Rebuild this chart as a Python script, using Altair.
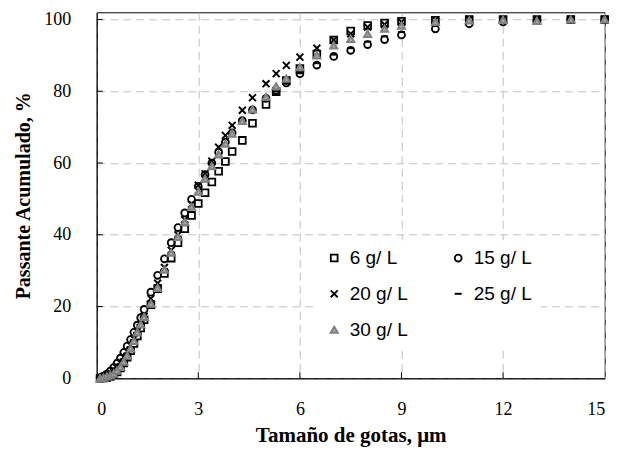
import altair as alt
import pandas as pd

sizes = [0.1, 0.2, 0.3, 0.4, 0.5, 0.6, 0.7, 0.8, 0.9, 1.0, 1.1, 1.2, 1.3, 1.4, 1.6, 1.8,
         2.0, 2.2, 2.4, 2.6, 2.8, 3.0, 3.2, 3.4, 3.6, 3.8, 4.0, 4.3, 4.6, 5.0, 5.3, 5.6,
         6.0, 6.5, 7.0, 7.5, 8.0, 8.5, 9.0, 10, 11, 12, 13, 14, 15]

s6 = [0.0, 0.1, 0.2, 0.5, 1.0, 1.8, 2.9, 4.3, 5.9, 7.7, 9.7, 11.8, 14.0, 16.3, 20.5, 25.0,
      29.2, 33.5, 37.8, 41.7, 45.4, 48.7, 51.7, 54.7, 57.7, 60.4, 63.2, 66.3, 71.1, 76.3, 79.9, 83.0,
      86.3, 90.4, 94.3, 96.8, 98.3, 99.0, 99.5, 99.8, 100, 100, 100, 100, 100]
s15 = [0.2, 0.6, 1.2, 2.0, 3.0, 4.2, 5.6, 7.2, 9.0, 10.8, 12.8, 14.8, 16.9, 19.2, 24.0, 28.7,
       33.3, 37.8, 42.0, 46.1, 49.9, 53.5, 56.8, 60.0, 63.0, 65.8, 68.4, 71.8, 74.8, 78.0, 80.3, 82.3,
       84.9, 87.3, 89.7, 91.4, 93.0, 94.4, 95.7, 97.4, 98.8, 99.3, 99.7, 100, 100]
s20 = [0.1, 0.4, 0.9, 1.5, 2.3, 3.3, 4.5, 5.9, 7.5, 9.2, 11.0, 13.0, 15.0, 17.3, 22.2, 26.5,
       30.9, 35.7, 40.0, 44.2, 48.5, 53.8, 57.0, 60.5, 64.4, 67.7, 70.5, 74.7, 78.2, 82.1, 84.9, 87.2,
       89.5, 92.0, 94.3, 96.0, 97.9, 98.6, 99.3, 99.9, 100, 100, 100, 100, 100]
s25 = [0.1, 0.3, 0.7, 1.2, 1.9, 2.8, 3.9, 5.3, 6.9, 8.7, 10.6, 12.7, 14.8, 17.0, 21.5, 26.0,
       30.5, 35.0, 39.5, 43.5, 47.5, 51.5, 55.0, 58.5, 61.8, 64.8, 67.5, 71.0, 74.3, 77.8, 80.0, 82.3,
       85.0, 87.8, 90.2, 92.0, 93.8, 95.3, 96.5, 98.2, 99.3, 99.7, 100, 100, 100]
s30 = [0.0, 0.2, 0.5, 0.8, 1.3, 2.1, 3.2, 4.6, 6.3, 8.3, 10.4, 12.8, 15.0, 17.1, 20.8, 25.2,
       30.3, 35.0, 39.4, 43.6, 47.8, 52.0, 55.6, 59.1, 62.4, 65.4, 68.2, 71.7, 74.9, 78.4, 81.4, 83.5,
       86.7, 90.0, 92.8, 94.6, 96.0, 97.4, 98.3, 99.3, 99.7, 99.9, 99.6, 100, 100]

series_names = ["6 g/ L", "15 g/ L", "20 g/ L", "25 g/ L", "30 g/ L"]
x_ticks = [0, 3, 6, 9, 12, 15]
y_ticks = [0, 20, 40, 60, 80, 100]

rows = []
for name, vals in zip(series_names, [s6, s15, s20, s25, s30]):
    for x, v in zip(sizes, vals):
        rows.append({"size": x, "pct": v, "series": name})
df = pd.DataFrame(rows)

W, H = 508, 366

xscale = alt.Scale(domain=[0, 15], nice=False, zero=False)
yscale = alt.Scale(domain=[0, 102], nice=False)

leg = alt.Legend(title=None, orient="none", legendX=220, legendY=228, columns=2,
                 direction="horizontal",
                 labelFont="Liberation Sans", labelFontSize=19, labelColor="black",
                 fillColor="white", padding=8, rowPadding=16, columnPadding=40,
                 labelOffset=6)

points = alt.Chart(df).mark_point(opacity=1).encode(
    x=alt.X("size:Q", scale=xscale,
            axis=alt.Axis(values=x_ticks, title="Tamaño de gotas, μm", labelPadding=22,
                          titlePadding=6, titleFontSize=21)),
    y=alt.Y("pct:Q", scale=yscale,
            axis=alt.Axis(values=y_ticks, title="Passante Acumulado, %", labelPadding=26,
                          titlePadding=10, titleFontSize=20)),
    shape=alt.Shape("series:N", scale=alt.Scale(domain=series_names,
                    range=["square", "circle", "M-1,-1L1,1M-1,1L1,-1", "M-1,0L1,0", "triangle-up"]),
                    legend=leg),
    stroke=alt.Stroke("series:N", scale=alt.Scale(domain=series_names,
                      range=["black", "black", "black", "black", "#808080"]), legend=leg),
    fill=alt.Fill("series:N", scale=alt.Scale(domain=series_names,
                  range=["transparent", "transparent", "transparent", "transparent", "#a6a6a6"]),
                  legend=leg),
    size=alt.Size("series:N", scale=alt.Scale(domain=series_names, range=[46, 50, 100, 49, 64]),
                  legend=leg),
    strokeWidth=alt.StrokeWidth("series:N", scale=alt.Scale(domain=series_names,
                                range=[1.8, 2.0, 2.2, 2.8, 1.3]), legend=leg),
)

xt = pd.DataFrame({"v": x_ticks[1:-1]})
yt = pd.DataFrame({"v": y_ticks[1:]})

xtick_rules = alt.Chart(xt).mark_rule(color="black", strokeWidth=1).encode(
    x=alt.X("v:Q", scale=xscale), y=alt.value(H), y2=alt.value(H - 6))
ytick_rules = alt.Chart(yt).mark_rule(color="black", strokeWidth=1).encode(
    y=alt.Y("v:Q", scale=yscale), x=alt.value(0), x2=alt.value(6))

chart = alt.layer(points, xtick_rules, ytick_rules).properties(
    width=W, height=H,
    autosize=alt.AutoSizeParams(type="none"),
    padding={"left": 88.7, "top": 4.3, "right": 4, "bottom": 76},
).configure_view(stroke="black", strokeWidth=1).configure_axis(
    labelFont="Liberation Serif", labelFontSize=18, labelColor="black",
    titleFont="Liberation Serif", titleFontWeight="bold", titleColor="black",
    domainColor="black", domainWidth=1, ticks=False,
    grid=True, gridColor="#c0c0c0", gridDash=[8, 5], gridWidth=1,
)

chart.save("out.html", embed_options={"renderer": "svg", "actions": False})
